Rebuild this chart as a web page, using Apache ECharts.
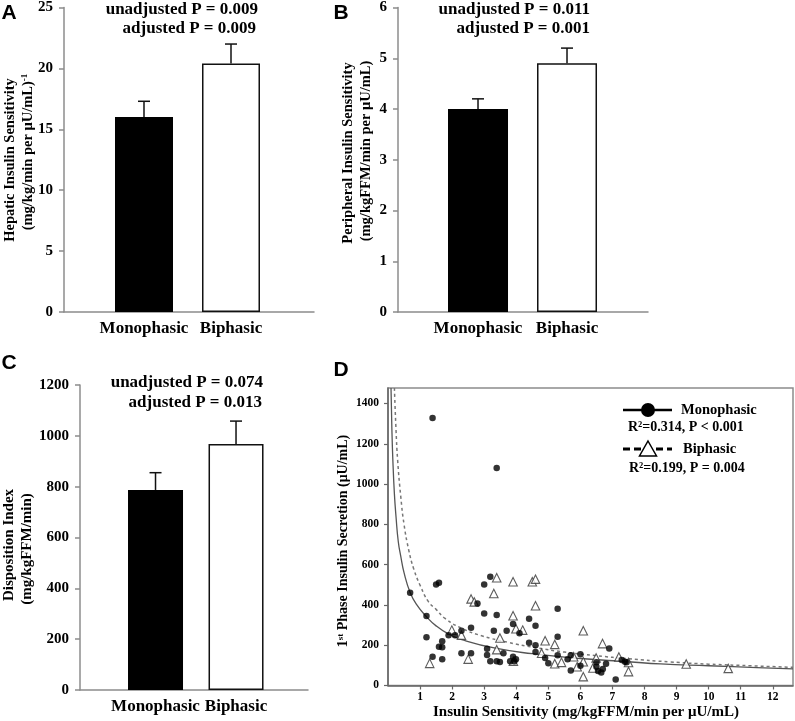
<!DOCTYPE html>
<html>
<head>
<meta charset="utf-8">
<script src="https://cdn.jsdelivr.net/npm/echarts@6/dist/echarts.min.js"></script>
<style>
html,body{margin:0;padding:0;background:#fff;}
#c{width:795px;height:721px;}
</style>
</head>
<body>
<div id="c"></div>
<script>
// ---------- DATA ----------
const barCategories = ['Monophasic', 'Biphasic'];

const hepaticMean = [16.0, 20.4];
const hepaticErr = [1.3, 1.6];
const hepaticTicks = [0, 5, 10, 15, 20, 25];

const peripheralMean = [4.0, 4.9];
const peripheralErr = [0.2, 0.3];
const peripheralTicks = [0, 1, 2, 3, 4, 5, 6];

const dispositionMean = [787, 968];
const dispositionErr = [68, 90];
const dispositionTicks = [0, 200, 400, 600, 800, 1000, 1200];

const pTextA = ['unadjusted P = 0.009', 'adjusted P = 0.009'];
const pTextB = ['unadjusted P = 0.011', 'adjusted P = 0.001'];
const pTextC = ['unadjusted P = 0.074', 'adjusted P = 0.013'];

// Panel D scatter: insulin sensitivity (x) vs 1st phase secretion (y)
const monoIS = [0.69, 1.20, 1.39, 1.20, 1.39, 1.50, 1.59, 1.59, 1.69, 1.69, 1.69, 1.89, 2.09, 2.29, 2.29,
  2.59, 2.59, 2.79, 3.00, 3.19, 3.00, 3.39, 3.30, 3.39, 3.09, 3.09, 3.19, 3.39, 3.49, 3.70, 3.60, 3.81,
  3.90, 3.90, 3.94, 3.99, 4.10, 4.40, 4.40, 4.60, 4.60, 4.60, 4.90, 5.00, 5.29, 5.29, 5.29, 5.60, 5.70,
  5.70, 6.00, 6.00, 6.50, 6.50, 6.55, 6.65, 6.70, 6.80, 6.90, 7.10, 7.29, 7.39, 7.44];
const monoSec = [460, 345, 1328, 239, 143, 502, 510, 193, 220, 190, 130, 250, 250, 272, 160,
  287, 160, 407, 502, 540, 358, 350, 272, 1080, 183, 152, 121, 121, 117, 272, 160, 121,
  305, 143, 121, 130, 259, 332, 212, 297, 200, 166, 136, 110, 381, 242, 150, 130, 150,
  74, 155, 98, 115, 93, 72, 65, 82, 108, 184, 30, 127, 118, 115];

const biIS = [1.30, 1.99, 2.29, 2.50, 2.59, 2.69, 3.30, 3.39, 3.39, 3.49, 3.90, 3.90, 3.99, 4.20, 3.91,
  4.50, 4.60, 4.60, 4.79, 4.90, 5.20, 5.20, 5.41, 5.79, 5.90, 6.09, 6.09, 6.09, 6.39, 6.49, 6.69,
  7.20, 7.50, 7.50, 9.30, 10.61];
const biSec = [110, 275, 250, 131, 430, 415, 457, 535, 178, 236, 515, 346, 282, 275, 121,
  515, 528, 396, 160, 222, 204, 108, 115, 143, 93, 272, 118, 44, 87, 137, 208,
  142, 114, 69, 107, 85];

// Fitted curves
const monoFitX = [0.094, 0.12, 0.15, 0.2, 0.25, 0.32, 0.4, 0.5, 0.69, 0.9, 1.19, 1.5, 1.88, 2.3, 3.35, 4.5, 6, 7.5, 8.5, 10, 11.5, 12.63];
const monoFitY = [1477, 1280, 1125, 950, 838, 715, 640, 560, 462, 400, 343, 296, 256, 228, 185, 158, 134, 118, 107, 98, 89, 83];
const biFitX = [0.2, 0.25, 0.3, 0.4, 0.5, 0.65, 0.8, 1.0, 1.26, 1.5, 1.78, 2.3, 2.92, 3.75, 4.6, 5.5, 6.5, 7.5, 8.8, 10, 11.3, 12.63];
const biFitY = [1477, 1270, 1120, 935, 800, 670, 580, 498, 416, 378, 333, 284, 247, 214, 188, 166, 148, 133, 117, 106, 98, 90];

const xTicksD = [1, 2, 3, 4, 5, 6, 7, 8, 9, 10, 11, 12];
const yTicksD = [0, 200, 400, 600, 800, 1000, 1200, 1400];

// ---------- CHART ----------
const SERIF = '"Liberation Serif", "Times New Roman", serif';
const SANS = '"Liberation Sans", Arial, sans-serif';
const AXIS_GRAY = '#8c8c8c';
const plain = v => String(v);

const chart = echarts.init(document.getElementById('c'), null, {renderer: 'canvas'});

function barYAxis(gridIndex, ticks) {
  return {
    type: 'value', gridIndex, min: ticks[0], max: ticks[ticks.length - 1], interval: ticks[1] - ticks[0],
    axisLine: {show: true, lineStyle: {color: AXIS_GRAY, width: 1.5}},
    axisTick: {show: true, length: 5, lineStyle: {color: AXIS_GRAY, width: 1.5}},
    splitLine: {show: false},
    axisLabel: {formatter: plain, color: '#000', fontFamily: SERIF, fontWeight: 'bold', fontSize: 15, margin: 11}
  };
}
function barXAxis(gridIndex, min, max) {
  return {
    type: 'value', gridIndex, min, max,
    axisLine: {show: true, onZero: false, lineStyle: {color: AXIS_GRAY, width: 1.5}},
    axisTick: {show: false},
    splitLine: {show: false},
    axisLabel: {
      customValues: [1, 2],
      formatter: v => barCategories[Math.round(v) - 1] || '',
      color: '#000', fontFamily: SERIF, fontWeight: 'bold', fontSize: 17, margin: 8
    }
  };
}
function barSeries(idx, mean, width) {
  return {
    type: 'bar', xAxisIndex: idx, yAxisIndex: idx, barWidth: width,
    data: mean.map((v, i) => ({
      value: [i + 1, v],
      itemStyle: i === 0 ? {color: '#000', borderColor: '#000', borderWidth: 1.5}
                         : {color: '#fff', borderColor: '#111', borderWidth: 1.5}
    })),
    silent: true
  };
}
function errRender(params, api) {
  const x = api.value(0), m = api.value(1), e = api.value(2);
  const p0 = api.coord([x, m]);
  const p1 = api.coord([x, m + e]);
  return {
    type: 'group',
    children: [
      {type: 'line', shape: {x1: p0[0], y1: p0[1], x2: p1[0], y2: p1[1]}, style: {stroke: '#111', lineWidth: 1.5}},
      {type: 'line', shape: {x1: p1[0] - 6, y1: p1[1], x2: p1[0] + 6, y2: p1[1]}, style: {stroke: '#111', lineWidth: 1.5}}
    ]
  };
}
function errSeries(idx, mean, err) {
  return {
    type: 'custom', xAxisIndex: idx, yAxisIndex: idx, z: 5, silent: true,
    renderItem: errRender,
    encode: {x: 0, y: 1},
    data: mean.map((v, i) => [i + 1, v, err[i]])
  };
}

function txt(text, x, y, o) {
  o = o || {};
  return {
    type: 'text', x, y, rotation: o.rot || 0, z: 50,
    style: {
      text, fill: o.fill || '#000',
      fontFamily: o.family || SERIF, fontWeight: 'bold', fontSize: o.size || 15,
      align: o.align || 'center', verticalAlign: 'middle',
      rich: o.rich
    }
  };
}
const supRich = {sup: {fontSize: 9, fontWeight: 'bold', fontFamily: SERIF, verticalAlign: 'top', fill: '#000'}};

const graphics = [
  // panel letters
  txt('A', 9, 13, {family: SANS, size: 21}),
  txt('B', 341, 13, {family: SANS, size: 21}),
  txt('C', 9, 363, {family: SANS, size: 21}),
  txt('D', 341, 370, {family: SANS, size: 21}),
  // P-values
  txt(pTextA[0], 258, 10, {align: 'right', size: 17}),
  txt(pTextA[1], 256, 29, {align: 'right', size: 17}),
  txt(pTextB[0], 590, 10, {align: 'right', size: 17}),
  txt(pTextB[1], 590, 29, {align: 'right', size: 17}),
  txt(pTextC[0], 263, 383, {align: 'right', size: 17}),
  txt(pTextC[1], 262, 403, {align: 'right', size: 17}),
  // y-axis titles
  txt('Hepatic Insulin Sensitivity', 10, 160, {rot: Math.PI / 2, size: 14.5}),
  txt('(mg/kg/min per μU/mL){sup|-1}', 28, 152, {rot: Math.PI / 2, size: 14.5, rich: supRich}),
  txt('Peripheral Insulin Sensitivity', 348, 153, {rot: Math.PI / 2, size: 14.5}),
  txt('(mg/kgFFM/min per μU/mL)', 366, 151, {rot: Math.PI / 2, size: 14.5}),
  txt('Disposition Index', 9, 545, {rot: Math.PI / 2, size: 15}),
  txt('(mg/kgFFM/min)', 27, 549, {rot: Math.PI / 2, size: 15}),
  txt('1{sup|st} Phase Insulin Secretion (μU/mL)', 343, 541, {rot: Math.PI / 2, size: 14, rich: supRich}),
  txt('Insulin Sensitivity (mg/kgFFM/min per μU/mL)', 586, 712, {size: 15}),
  // legend of panel D
  {type: 'line', z: 50, shape: {x1: 623, y1: 410, x2: 672, y2: 410}, style: {stroke: '#000', lineWidth: 2.5}},
  {type: 'circle', z: 51, shape: {cx: 648, cy: 410, r: 7}, style: {fill: '#000'}},
  txt('Monophasic', 681, 410, {align: 'left', size: 14.5}),
  {type: 'text', x: 628, y: 427, z: 50, style: {text: 'R²=0.314, P < 0.001', fill: '#000', fontFamily: SERIF, fontWeight: 'bold', fontSize: 14, align: 'left', verticalAlign: 'middle'}},
  {type: 'line', z: 50, shape: {x1: 623, y1: 449, x2: 672, y2: 449}, style: {stroke: '#000', lineWidth: 3, lineDash: [7, 4]}},
  {type: 'polygon', z: 51, shape: {points: [[648, 441], [656.5, 456], [639.5, 456]]}, style: {fill: '#fff', stroke: '#000', lineWidth: 1.5}},
  txt('Biphasic', 683, 449, {align: 'left', size: 14.5}),
  {type: 'text', x: 629, y: 468, z: 50, style: {text: 'R²=0.199, P = 0.004', fill: '#000', fontFamily: SERIF, fontWeight: 'bold', fontSize: 14, align: 'left', verticalAlign: 'middle'}}
];

const option = {
  animation: false,
  backgroundColor: '#fff',
  grid: [
    {left: 64, top: 7, width: 250, height: 305},
    {left: 398, top: 7, width: 250, height: 305},
    {left: 80, top: 385, width: 228, height: 305},
    {left: 388, top: 388, width: 405, height: 297.5, show: true, borderColor: '#8c8c8c', borderWidth: 1.5, backgroundColor: 'transparent'}
  ],
  xAxis: [
    barXAxis(0, 0.0805, 2.954),
    barXAxis(1, 0.101, 2.91),
    barXAxis(2, 0.062, 2.894),
    {
      type: 'value', gridIndex: 3, min: 0, max: 12.63,
      axisLine: {show: true, onZero: false, lineStyle: {color: '#666', width: 1.5}},
      axisTick: {show: true, customValues: xTicksD, length: 4, lineStyle: {color: '#666', width: 1.2}},
      splitLine: {show: false},
      axisLabel: {customValues: xTicksD, formatter: plain, color: '#000', fontFamily: SERIF, fontWeight: 'bold', fontSize: 11.5, margin: 6}
    }
  ],
  yAxis: [
    barYAxis(0, hepaticTicks),
    barYAxis(1, peripheralTicks),
    barYAxis(2, dispositionTicks),
    {
      type: 'value', gridIndex: 3, min: 0, max: 1477,
      axisLine: {show: true, onZero: false, lineStyle: {color: '#666', width: 1.5}},
      axisTick: {show: true, customValues: yTicksD, length: 4, lineStyle: {color: '#666', width: 1.2}},
      splitLine: {show: false},
      axisLabel: {customValues: yTicksD, formatter: plain, color: '#000', fontFamily: SERIF, fontWeight: 'bold', fontSize: 11.5, margin: 9}
    }
  ],
  series: [
    barSeries(0, hepaticMean, 58),
    errSeries(0, hepaticMean, hepaticErr),
    barSeries(1, peripheralMean, 60),
    errSeries(1, peripheralMean, peripheralErr),
    barSeries(2, dispositionMean, 55),
    errSeries(2, dispositionMean, dispositionErr),
    {
      type: 'line', xAxisIndex: 3, yAxisIndex: 3, smooth: true, showSymbol: false, silent: true,
      data: monoFitX.map((x, i) => [x, monoFitY[i]]),
      lineStyle: {color: '#555', width: 1.3}, z: 2
    },
    {
      type: 'line', xAxisIndex: 3, yAxisIndex: 3, smooth: true, showSymbol: false, silent: true,
      data: biFitX.map((x, i) => [x, biFitY[i]]),
      lineStyle: {color: '#777', width: 1.5, type: [3, 3]}, z: 2
    },
    {
      type: 'scatter', xAxisIndex: 3, yAxisIndex: 3, symbol: 'circle', symbolSize: 6.5, silent: true,
      data: monoIS.map((x, i) => [x, monoSec[i]]),
      itemStyle: {color: '#000'}, z: 4
    },
    {
      type: 'scatter', xAxisIndex: 3, yAxisIndex: 3, symbol: 'triangle', symbolSize: 8.5, silent: true,
      data: biIS.map((x, i) => [x, biSec[i]]),
      itemStyle: {color: '#fff', borderColor: '#333', borderWidth: 1.1}, z: 3
    }
  ],
  graphic: graphics
};
chart.setOption(option);
</script>
</body>
</html>
